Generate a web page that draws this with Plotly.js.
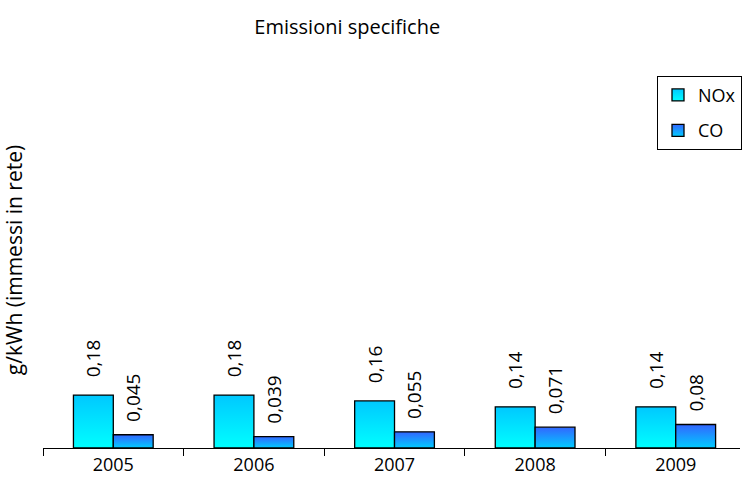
<!DOCTYPE html>
<html>
<head>
<meta charset="utf-8">
<script src="https://cdn.plot.ly/plotly-3.0.1.min.js"></script>
<style>html,body{margin:0;padding:0;background:#fff;}</style>
</head>
<body>
<div id="chart" style="width:742px;height:501px;"></div>
<script>
const years = ["2005", "2006", "2007", "2008", "2009"];
const nox = [0.18, 0.18, 0.16, 0.14, 0.14];
const co = [0.045, 0.039, 0.055, 0.071, 0.08];

const FONT = "Open Sans, sans-serif";

const traces = [
  {
    type: "bar", name: "NOx", x: years, y: nox,
    legendgroup: "a",
    marker: {color: "#00E6FF", line: {color: "#000", width: 1.3}},
    texttemplate: "\u00a0\u00a0\u00a0%{y}", textposition: "outside", textangle: -90, constraintext: "none",
    textfont: {family: FONT, size: 19, color: "#000"}, cliponaxis: false,
    hoverinfo: "skip"
  },
  {
    type: "bar", name: "CO", x: years, y: co,
    legendgroup: "b",
    marker: {color: "#1A99FF", line: {color: "#000", width: 1.3}},
    texttemplate: "\u00a0\u00a0%{y}", textposition: "outside", textangle: -90, constraintext: "none",
    textfont: {family: FONT, size: 19, color: "#000"}, cliponaxis: false,
    hoverinfo: "skip"
  }
];

const layout = {
  width: 742, height: 501,
  margin: {l: 43, r: 0, t: 72, b: 53},
  paper_bgcolor: "#fff", plot_bgcolor: "#fff",
  separators: ",.",
  font: {family: FONT, color: "#000"},
  title: {text: "Emissioni specifiche", font: {family: FONT, size: 20, color: "#000"},
          x: 0.468, xref: "container", xanchor: "center", y: 0.946, yref: "container", yanchor: "middle"},
  barmode: "group", bargap: 0.433, bargroupgap: 0,
  showlegend: true,
  legend: {x: 0.8815, xanchor: "left", y: 0.99, yanchor: "top", bordercolor: "#000", borderwidth: 1,
           font: {family: FONT, size: 18, color: "#000"}, traceorder: "grouped", tracegroupgap: 9, bgcolor: "#fff",
           itemwidth: 30},
  xaxis: {type: "category", range: [-0.5, 4.457], showline: true, linecolor: "#000", linewidth: 1,
          ticks: "outside", tickson: "boundaries", ticklen: 7, tickcolor: "#000",
          tickfont: {family: FONT, size: 18, color: "#000"}, showgrid: false, zeroline: false, fixedrange: true},
  yaxis: {range: [0, 1.279], showticklabels: false, ticks: "", showline: false, showgrid: false, zeroline: false,
          title: {text: "g/kWh (immessi in rete)", font: {family: FONT, size: 21, color: "#000"}, standoff: 16},
          automargin: false, fixedrange: true}
};

Plotly.newPlot("chart", traces, layout, {displayModeBar: false, staticPlot: true}).then(function (gd) {
  const svg = gd.querySelector(".main-svg");
  const ns = "http://www.w3.org/2000/svg";
  let defs = svg.querySelector("defs");
  if (!defs) { defs = document.createElementNS(ns, "defs"); svg.insertBefore(defs, svg.firstChild); }
  const grads = [["gNox", "#00C8FF", "#00FFFF"], ["gCo", "#3366FF", "#00CCFF"]];
  grads.forEach(function (g) {
    const lg = document.createElementNS(ns, "linearGradient");
    lg.setAttribute("id", g[0]);
    lg.setAttribute("x1", "0"); lg.setAttribute("y1", "0"); lg.setAttribute("x2", "0"); lg.setAttribute("y2", "1");
    const s1 = document.createElementNS(ns, "stop"); s1.setAttribute("offset", "0"); s1.setAttribute("stop-color", g[1]);
    const s2 = document.createElementNS(ns, "stop"); s2.setAttribute("offset", "1"); s2.setAttribute("stop-color", g[2]);
    lg.appendChild(s1); lg.appendChild(s2); defs.appendChild(lg);
  });
  const barTraces = gd.querySelectorAll(".barlayer .trace.bars");
  barTraces.forEach(function (t, i) {
    t.querySelectorAll(".point path").forEach(function (p) { p.style.fill = "url(#" + grads[i][0] + ")"; });
  });
  const legTraces = gd.querySelectorAll(".legend .traces");
  legTraces.forEach(function (t, i) {
    t.querySelectorAll(".legendpoints path").forEach(function (p) { p.style.fill = "url(#" + grads[i][0] + ")"; });
  });
});
</script>
</body>
</html>
